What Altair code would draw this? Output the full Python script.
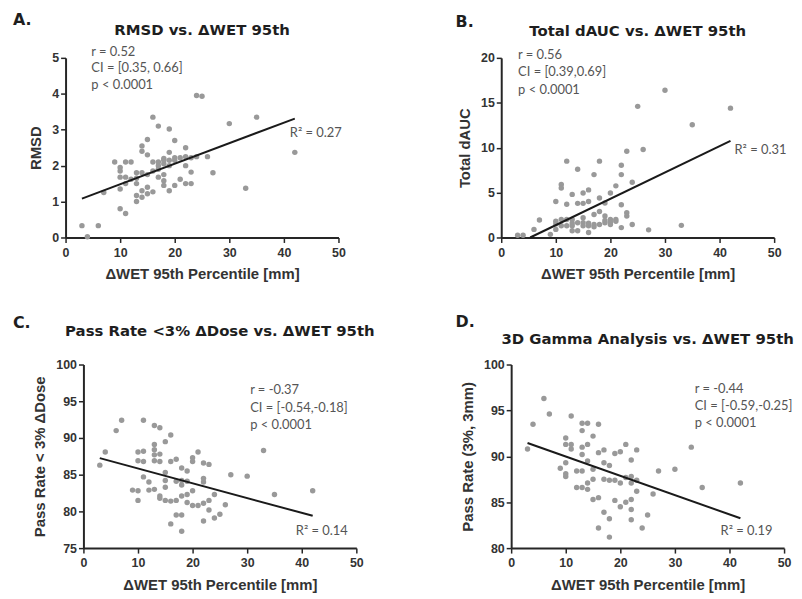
import altair as alt
import pandas as pd

# ---------------- data ----------------
# Panel A: RMSD vs dWET 95th
a_x = [3, 4, 6, 7, 9, 10, 10, 10, 10, 10, 11, 11, 11, 11, 12, 12, 13, 13, 13, 13, 13,
       14, 14, 14, 14, 14, 15, 15, 15, 15, 15, 16, 16, 16, 16, 17, 17, 17, 17, 17,
       18, 18, 18, 18, 18, 18, 19, 19, 19, 19, 19, 20, 20, 20, 20, 21, 21, 22, 22, 22, 22,
       23, 23, 23, 24, 25, 24, 26, 27, 30, 33, 35, 42]
a_y = [0.33, 0.02, 0.33, 1.25, 2.1, 1.95, 1.68, 1.35, 0.8, 1.85, 0.67, 2.1, 1.68, 1.5, 2.1, 1.62,
       1.8, 1.5, 1.17, 1.0, 1.65, 1.8, 1.3, 1.12, 2.55, 2.4, 2.73, 2.3, 1.4, 1.22, 1.75,
       3.35, 2.1, 1.27, 1.85, 3.1, 2.1, 1.9, 1.68, 2.0, 2.2, 2.05, 1.58, 1.45, 1.75, 2.15,
       3.02, 2.37, 2.15, 1.3, 2.0, 2.7, 2.15, 1.45, 2.22, 2.22, 1.62, 2.5, 2.25, 2.0, 1.5,
       2.22, 1.82, 1.5, 3.95, 3.93, 2.25, 2.25, 1.8, 3.17, 1.37, 3.35, 2.37]
a_line_x = [3, 42]
a_line_y = [1.08, 3.31]

# Panel B: Total dAUC vs dWET 95th
b_x = [3, 4, 6, 7, 9, 10, 10, 10, 10, 11, 11, 11, 11, 12, 12, 12, 12, 13, 13, 13, 13, 13,
       14, 14, 14, 14, 15, 15, 15, 15, 15, 16, 16, 16, 16, 16, 17, 17, 17, 17, 18, 18, 18, 18,
       19, 19, 19, 19, 20, 20, 20, 20, 21, 21, 21, 22, 22, 22, 22, 23, 23, 23, 24, 24,
       25, 26, 27, 30, 33, 35, 42]
b_y = [0.25, 0.25, 0.9, 1.95, 0.35, 4.0, 0.9, 1.8, 1.5, 5.9, 5.5, 2.0, 1.3, 8.5, 3.7, 2.0, 1.3,
       4.8, 2.0, 1.3, 0.75, 1.6, 7.6, 3.8, 1.65, 0.75, 4.95, 3.8, 1.65, 2.2, 1.3,
       5.3, 4.0, 1.3, 0.55, 1.6, 7.0, 2.55, 1.45, 1.2, 8.5, 4.4, 2.9, 1.45,
       3.85, 2.4, 1.65, 1.9, 4.95, 2.0, 1.45, 1.7, 5.75, 1.8, 2.0, 8.05, 7.0, 3.65, 1.1,
       9.6, 2.75, 2.4, 6.15, 1.45, 14.6, 9.8, 0.85, 16.4, 1.35, 12.55, 14.4]
b_line_x = [5.3, 42]
b_line_y = [0.0, 10.75]

# Panel C: Pass rate <3% dDose vs dWET 95th
c_x = [3, 4, 6, 7, 9, 10, 10, 10, 10, 11, 11, 11, 11, 12, 12, 13, 13, 13, 13, 13, 13,
       14, 14, 14, 14, 14, 15, 15, 15, 15, 15, 16, 16, 16, 16, 17, 17, 17, 17,
       18, 18, 18, 18, 18, 18, 19, 19, 19, 19, 20, 20, 20, 20, 21, 21, 22, 22, 22, 22, 22,
       23, 23, 23, 24, 24, 25, 26, 27, 30, 33, 35, 42]
c_y = [86.3, 88.1, 91.0, 92.4, 82.9, 82.8, 81.5, 88.1, 86.9, 88.2, 92.4, 86.8, 84.7, 84.0, 82.9,
       83.0, 89.1, 88.4, 87.7, 86.9, 91.7, 91.4, 87.8, 86.8, 82.1, 81.8,
       89.5, 85.3, 84.2, 83.3, 81.5, 90.4, 86.8, 78.3, 81.4, 87.1, 84.1, 81.5, 79.5,
       77.3, 85.9, 84.2, 83.6, 82.1, 79.5, 85.5, 84.1, 82.3, 81.2, 87.3, 86.8, 82.8, 80.8,
       88.1, 80.8, 86.6, 84.5, 84.0, 81.1, 78.7, 86.4, 81.5, 80.2, 82.3, 79.1, 79.6, 80.9,
       85.0, 84.8, 88.3, 82.3, 82.8]
c_line_x = [3, 42]
c_line_y = [87.25, 79.4]

# Panel D: 3D gamma pass rate vs dWET 95th
d_x = [3, 4, 6, 7, 9, 10, 10, 10, 10, 10, 11, 11, 11, 12, 12, 13, 13, 13, 13, 13, 13,
       14, 14, 14, 14, 14, 15, 15, 15, 15, 16, 16, 16, 16, 17, 17, 17, 17, 18, 18, 18, 18,
       19, 19, 19, 20, 20, 20, 21, 21, 21, 22, 22, 22, 22, 22, 22, 23, 23, 23,
       24, 25, 26, 27, 30, 33, 35, 42]
d_y = [90.8, 93.5, 96.3, 94.6, 88.7, 92.0, 91.3, 89.3, 88.1, 87.8, 94.4, 91.3, 90.8, 88.4, 86.6,
       93.6, 92.8, 91.0, 90.2, 88.4, 86.6, 93.6, 91.3, 89.5, 87.1, 86.4,
       92.2, 88.6, 87.5, 85.3, 93.5, 90.4, 85.5, 82.2, 90.7, 89.3, 87.5, 83.9,
       89.0, 87.4, 83.2, 81.2, 90.3, 87.4, 85.2, 90.5, 87.1, 84.5, 91.3, 87.7, 85.0,
       89.6, 87.8, 87.1, 85.3, 84.2, 83.1, 90.7, 86.2, 87.4,
       82.2, 83.6, 85.9, 88.4, 88.6, 91.0, 86.6, 87.1]
d_line_x = [3, 42]
d_line_y = [91.45, 83.25]

x_ticks = [0, 10, 20, 30, 40, 50]
x_title = "\u0394WET 95th Percentile [mm]"

W = 275
AX = "#262626"
PT = "#999999"
STAT = "#555555"
TITLE_FONT = "DejaVu Sans"
LABEL_FONT = "Liberation Sans"
STAT_FONT = "Lato"


def txt(s, x, y, font, size, color, weight="normal", align="left", lh=None):
    kw = dict(font=font, fontSize=size, color=color, fontWeight=weight,
              align=align, baseline="middle")
    if lh is not None:
        kw.update(lineBreak="\n", lineHeight=lh)
    return alt.Chart(pd.DataFrame({"t": [s]})).mark_text(**kw).encode(
        text="t:N", x=alt.value(x), y=alt.value(y))


def axis(values, title, label_pad, **extra):
    return alt.Axis(values=values, grid=False, title=title, domainColor=AX,
                    domainWidth=2, tickColor=AX, tickWidth=1.5, tickSize=5,
                    labelFont=LABEL_FONT, labelFontWeight="bold", labelFontSize=12.5,
                    labelColor="#333333", labelPadding=label_pad, labelOverlap=False,
                    labelFlush=False, titleFont=LABEL_FONT,
                    titleFontWeight="bold", titleFontSize=15, titleColor="#333333",
                    titlePadding=8, **extra)


def panel(xs, ys, lx, ly, ydom, yticks, ytitle, title, title_y, letter, letter_xy,
          stats, stats_xy, stats_lh, r2, r2_xy, H, dx=0):
    xscale = alt.Scale(domain=[0, 50], nice=False, zero=False, range=[dx, dx + W])
    yscale = alt.Scale(domain=ydom, nice=False, zero=False)
    xax = axis(x_ticks, x_title, 4)
    yax = axis(yticks, ytitle, 2, offset=-dx) if dx else axis(yticks, ytitle, 2)
    pts = alt.Chart(pd.DataFrame({"x": xs, "y": ys})).mark_circle(
        size=30, color=PT, opacity=1).encode(
        x=alt.X("x:Q", scale=xscale, axis=xax),
        y=alt.Y("y:Q", scale=yscale, axis=yax))
    line = alt.Chart(pd.DataFrame({"x": lx, "y": ly})).mark_line(
        color="#1a1a1a", strokeWidth=2).encode(
        x=alt.X("x:Q", scale=xscale, axis=xax),
        y=alt.Y("y:Q", scale=yscale, axis=yax))
    layers = [
        pts, line,
        txt(title, dx + W / 2, title_y, TITLE_FONT, 15, "#1e1e1e", "bold", "center"),
        txt(letter, dx + letter_xy[0], letter_xy[1], TITLE_FONT, 16, "#1e1e1e", "bold"),
        txt(stats, dx + stats_xy[0], stats_xy[1], STAT_FONT, 13, STAT, lh=stats_lh),
        txt(r2, dx + r2_xy[0], r2_xy[1], STAT_FONT, 13, STAT),
    ]
    return alt.layer(*layers).properties(width=W + dx, height=H)


pA = panel(a_x, a_y, a_line_x, a_line_y, [0, 5], [0, 1, 2, 3, 4, 5], "RMSD",
           "RMSD vs. \u0394WET 95th", -28, "A.", (-53, -38),
           "r = 0.52\nCI = [0.35, 0.66]\np < 0.0001", (26, -6), 16.5,
           "R\u00b2 = 0.27", (226, 76), 181)
pB = panel(b_x, b_y, b_line_x, b_line_y, [0, 20], [0, 5, 10, 15, 20], "Total dAUC",
           "Total dAUC vs. \u0394WET 95th", -27, "B.", (-46, -36),
           "r = 0.56\nCI = [0.39,0.69]\np < 0.0001", (17, -3), 17.5,
           "R\u00b2 = 0.31", (235, 93), 181)
pC = panel(c_x, c_y, c_line_x, c_line_y, [75, 100], [75, 80, 85, 90, 95, 100],
           "Pass  Rate < 3% \u0394Dose",
           "Pass Rate <3% \u0394Dose vs. \u0394WET 95th", -34, "C.", (-71, -42),
           "r = -0.37\nCI = [-0.54,-0.18]\np < 0.0001", (168, 26), 17.5,
           "R\u00b2 = 0.14", (214, 168), 185, dx=18)
pD = panel(d_x, d_y, d_line_x, d_line_y, [80, 100], [80, 85, 90, 95, 100],
           "Pass  Rate  (3%, 3mm)",
           "3D Gamma Analysis vs. \u0394WET 95th", -26, "D.", (-56, -43),
           "r = -0.44\nCI = [-0.59,-0.25]\np < 0.0001", (185, 25), 17,
           "R\u00b2 = 0.19", (211, 168), 185)

row1 = alt.hconcat(pA, pB, spacing=111)
row2 = alt.hconcat(pC, pD, spacing=81)
chart = alt.vconcat(row1, row2, spacing=32).properties(
    padding={"left": 5, "top": 2, "right": 0, "bottom": 0},
    background="white",
).configure_view(stroke=None).configure_axis(labelOverlap=False)

chart.save("out.html", embed_options={"renderer": "svg", "actions": False})
